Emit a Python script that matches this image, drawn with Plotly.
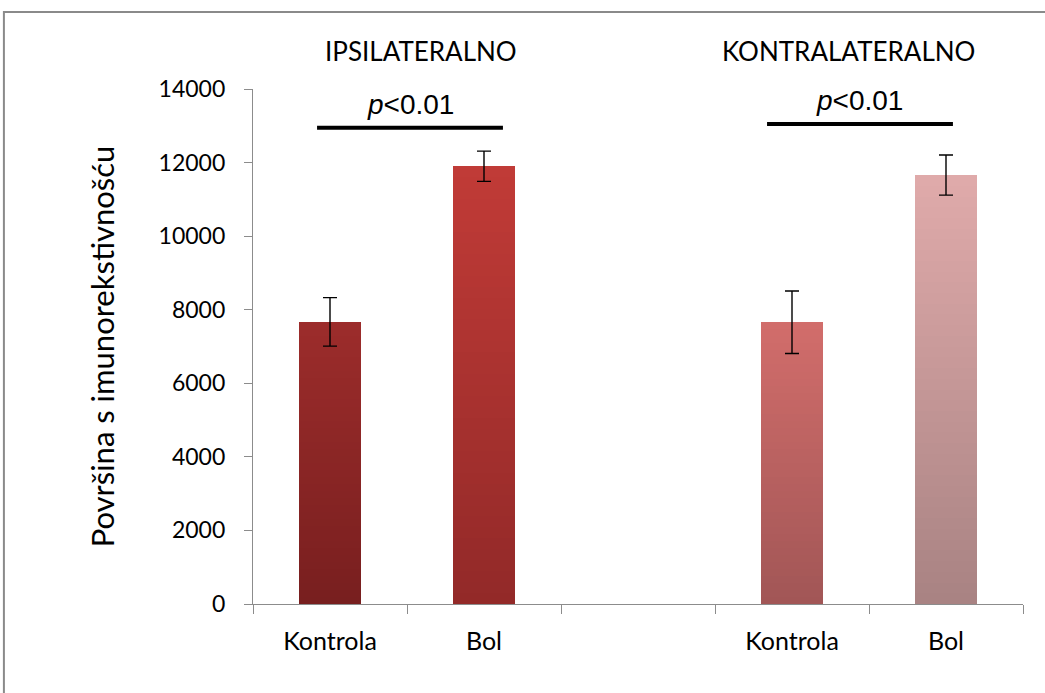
import plotly.graph_objects as go

# ---- data ----
x_pos = [0, 1, 3, 4]
bar_labels = ["Kontrola", "Bol", "Kontrola", "Bol"]
values = [7670, 11900, 7660, 11660]
errors = [660, 410, 850, 545]
group_titles = ["IPSILATERALNO", "KONTRALATERALNO"]
title_x = [0.218, 0.773]
sig_text = ["<i>p</i><0.01", "<i>p</i><0.01"]
sig_x = [[-0.084, 1.123], [2.838, 4.045]]
sig_y = [12950, 13050]
y_ticks = [0, 2000, 4000, 6000, 8000, 10000, 12000, 14000]
y_title = "Površina s imunorekstivnošću"

# gradient colours (top, bottom) per bar
grad_top = [(0x9c, 0x2c, 0x2b), (0xc1, 0x3b, 0x37), (0xd2, 0x6d, 0x6b), (0xe0, 0xab, 0xab)]
grad_bot = [(0x78, 0x1f, 0x1f), (0x92, 0x29, 0x28), (0xa1, 0x56, 0x56), (0xa8, 0x82, 0x82)]

FONT = "Lato, Carlito, sans-serif"
N = 40

fig = go.Figure()
for i in range(len(values)):
    seg = values[i] / N
    for k in range(N):
        t = (k + 0.5) / N
        c = tuple(int(round(grad_bot[i][j] + (grad_top[i][j] - grad_bot[i][j]) * t)) for j in range(3))
        fig.add_trace(go.Bar(
            x=[x_pos[i]], y=[seg], width=0.4,
            marker=dict(color="rgb(%d,%d,%d)" % c, line=dict(width=0)),
            showlegend=False, hoverinfo="skip"))

fig.add_trace(go.Scatter(
    x=x_pos, y=values, mode="markers", marker=dict(size=1, color="rgba(0,0,0,0)"),
    error_y=dict(type="data", array=errors, color="black", thickness=1.4, width=7),
    showlegend=False, hoverinfo="skip"))

for i in range(2):
    fig.add_shape(type="line", xref="x", yref="y", x0=sig_x[i][0], x1=sig_x[i][1],
                  y0=sig_y[i], y1=sig_y[i], line=dict(color="black", width=4))
    fig.add_annotation(x=(sig_x[i][0] + sig_x[i][1]) / 2, y=sig_y[i], yanchor="bottom", yshift=6,
                       xref="x", yref="y", text=sig_text[i], showarrow=False,
                       font=dict(family="Liberation Sans, Arial", size=28, color="black"))
    fig.add_annotation(x=title_x[i], y=1.0738, xref="paper", yref="paper", text=group_titles[i],
                       xanchor="center", yanchor="middle",
                       showarrow=False, font=dict(family=FONT, size=26, color="black"))

# outer frame
fig.add_shape(type="rect", xref="paper", yref="paper", x0=-0.3235, x1=1.2, y0=-0.5, y1=1.1495,
              line=dict(color="#8a8a8a", width=2), layer="below")

fig.update_layout(
    width=1045, height=693,
    margin=dict(l=253, r=22, t=89, b=89, autoexpand=False),
    paper_bgcolor="white", plot_bgcolor="white",
    barmode="stack", bargap=0,
    font=dict(family=FONT, color="black"),
    xaxis=dict(range=[-0.5, 4.5], tickmode="array", tickvals=x_pos, ticktext=bar_labels,
               ticks="", showline=True, linecolor="#8c8c8c", linewidth=1.3,
               showgrid=False, zeroline=False, tickfont=dict(family=FONT, size=25, color="black"),
               ticklabelstandoff=15,
               minor=dict(tickmode="linear", tick0=-0.5, dtick=1, ticks="outside",
                          ticklen=9, tickcolor="#8c8c8c", tickwidth=1.3, showgrid=False)),
    yaxis=dict(range=[0, 14000], tickmode="array", tickvals=y_ticks, tickformat="d",
               ticks="outside", ticklen=8,
               tickcolor="#8c8c8c", tickwidth=1.3, showline=True, linecolor="#8c8c8c",
               linewidth=1.3, showgrid=False, zeroline=False,
               tickfont=dict(family=FONT, size=23, color="black"), ticklabelstandoff=14,
               title=dict(text=y_title, font=dict(family=FONT, size=31),
                          standoff=34)),
)

fig.write_html("out.html", config={"displayModeBar": False},
               post_script="document.body.style.margin='0';")
